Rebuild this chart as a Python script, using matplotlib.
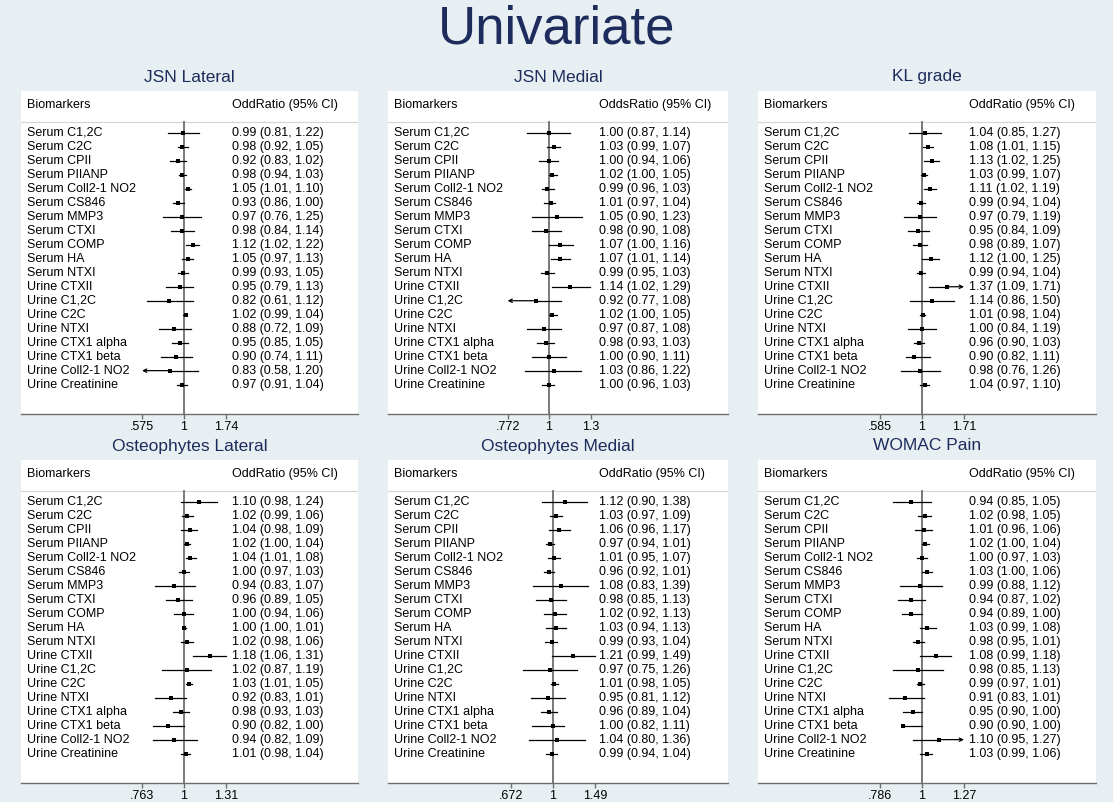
import numpy as np
import matplotlib
matplotlib.use("Agg")
import matplotlib.pyplot as plt
import matplotlib.transforms as mtrans

plt.rcParams["font.family"] = ["Liberation Sans", "DejaVu Sans"]

biomarkers = ["Serum C1,2C", "Serum C2C", "Serum CPII", "Serum PIIANP", "Serum Coll2-1 NO2",
              "Serum CS846", "Serum MMP3", "Serum CTXI", "Serum COMP", "Serum HA", "Serum NTXI",
              "Urine CTXII", "Urine C1,2C", "Urine C2C", "Urine NTXI", "Urine CTX1 alpha",
              "Urine CTX1 beta", "Urine Coll2-1 NO2", "Urine Creatinine"]

panel_titles = ["JSN Lateral", "JSN Medial", "KL grade",
                "Osteophytes Lateral", "Osteophytes Medial", "WOMAC Pain"]
or_headers = ["OddRatio (95% CI)", "OddsRatio (95% CI)", "OddRatio (95% CI)",
              "OddRatio (95% CI)", "OddRatio (95% CI)", "OddRatio (95% CI)"]

jsn_lat_or = [0.99, 0.98, 0.92, 0.98, 1.05, 0.93, 0.97, 0.98, 1.12, 1.05, 0.99, 0.95, 0.82, 1.02, 0.88, 0.95, 0.90, 0.83, 0.97]
jsn_lat_lo = [0.81, 0.92, 0.83, 0.94, 1.01, 0.86, 0.76, 0.84, 1.02, 0.97, 0.93, 0.79, 0.61, 0.99, 0.72, 0.85, 0.74, 0.58, 0.91]
jsn_lat_hi = [1.22, 1.05, 1.02, 1.03, 1.10, 1.00, 1.25, 1.14, 1.22, 1.13, 1.05, 1.13, 1.12, 1.04, 1.09, 1.05, 1.11, 1.20, 1.04]

jsn_med_or = [1.00, 1.03, 1.00, 1.02, 0.99, 1.01, 1.05, 0.98, 1.07, 1.07, 0.99, 1.14, 0.92, 1.02, 0.97, 0.98, 1.00, 1.03, 1.00]
jsn_med_lo = [0.87, 0.99, 0.94, 1.00, 0.96, 0.97, 0.90, 0.90, 1.00, 1.01, 0.95, 1.02, 0.77, 1.00, 0.87, 0.93, 0.90, 0.86, 0.96]
jsn_med_hi = [1.14, 1.07, 1.06, 1.05, 1.03, 1.04, 1.23, 1.08, 1.16, 1.14, 1.03, 1.29, 1.08, 1.05, 1.08, 1.03, 1.11, 1.22, 1.03]

kl_or = [1.04, 1.08, 1.13, 1.03, 1.11, 0.99, 0.97, 0.95, 0.98, 1.12, 0.99, 1.37, 1.14, 1.01, 1.00, 0.96, 0.90, 0.98, 1.04]
kl_lo = [0.85, 1.01, 1.02, 0.99, 1.02, 0.94, 0.79, 0.84, 0.89, 1.00, 0.94, 1.09, 0.86, 0.98, 0.84, 0.90, 0.82, 0.76, 0.97]
kl_hi = [1.27, 1.15, 1.25, 1.07, 1.19, 1.04, 1.19, 1.09, 1.07, 1.25, 1.04, 1.71, 1.50, 1.04, 1.19, 1.03, 1.11, 1.26, 1.10]

ost_lat_or = [1.10, 1.02, 1.04, 1.02, 1.04, 1.00, 0.94, 0.96, 1.00, 1.00, 1.02, 1.18, 1.02, 1.03, 0.92, 0.98, 0.90, 0.94, 1.01]
ost_lat_lo = [0.98, 0.99, 0.98, 1.00, 1.01, 0.97, 0.83, 0.89, 0.94, 1.00, 0.98, 1.06, 0.87, 1.01, 0.83, 0.93, 0.82, 0.82, 0.98]
ost_lat_hi = [1.24, 1.06, 1.09, 1.04, 1.08, 1.03, 1.07, 1.05, 1.06, 1.01, 1.06, 1.31, 1.19, 1.05, 1.01, 1.03, 1.00, 1.09, 1.04]

ost_med_or = [1.12, 1.03, 1.06, 0.97, 1.01, 0.96, 1.08, 0.98, 1.02, 1.03, 0.99, 1.21, 0.97, 1.01, 0.95, 0.96, 1.00, 1.04, 0.99]
ost_med_lo = [0.90, 0.97, 0.96, 0.94, 0.95, 0.92, 0.83, 0.85, 0.92, 0.94, 0.93, 0.99, 0.75, 0.98, 0.81, 0.89, 0.82, 0.80, 0.94]
ost_med_hi = [1.38, 1.09, 1.17, 1.01, 1.07, 1.01, 1.39, 1.13, 1.13, 1.13, 1.04, 1.49, 1.26, 1.05, 1.12, 1.04, 1.11, 1.36, 1.04]

womac_or = [0.94, 1.02, 1.01, 1.02, 1.00, 1.03, 0.99, 0.94, 0.94, 1.03, 0.98, 1.08, 0.98, 0.99, 0.91, 0.95, 0.90, 1.10, 1.03]
womac_lo = [0.85, 0.98, 0.96, 1.00, 0.97, 1.00, 0.88, 0.87, 0.89, 0.99, 0.95, 0.99, 0.85, 0.97, 0.83, 0.90, 0.90, 0.95, 0.99]
womac_hi = [1.05, 1.05, 1.06, 1.04, 1.03, 1.06, 1.12, 1.02, 1.00, 1.08, 1.01, 1.18, 1.13, 1.01, 1.01, 1.00, 1.00, 1.27, 1.06]

tick_vals = [[0.575, 1, 1.74], [0.772, 1, 1.3], [0.585, 1, 1.71],
             [0.763, 1, 1.31], [0.672, 1, 1.49], [0.786, 1, 1.27]]
tick_labels = [[".575", "1", "1.74"], [".772", "1", "1.3"], [".585", "1", "1.71"],
               [".763", "1", "1.31"], [".672", "1", "1.49"], [".786", "1", "1.27"]]
# rows whose CI is cut at the axis range (row, side)
arrows = [[(17, "lo")], [(12, "lo")], [(11, "hi")], [], [], [(17, "hi")]]

data = [(jsn_lat_or, jsn_lat_lo, jsn_lat_hi), (jsn_med_or, jsn_med_lo, jsn_med_hi),
        (kl_or, kl_lo, kl_hi), (ost_lat_or, ost_lat_lo, ost_lat_hi),
        (ost_med_or, ost_med_lo, ost_med_hi), (womac_or, womac_lo, womac_hi)]

W, H = 1113, 802
BG = "#e8eff2"
NAVY = "#1d2c5c"
GRAY = "#6e6e6e"

fig = plt.figure(figsize=(W / 100, H / 100), dpi=100, facecolor=BG)
fig.text(0.5, 1 - 29 / H, "Univariate", ha="center", va="center", fontsize=38, color=NAVY)

box_left = [21, 388, 758, 21, 388, 758]
box_w = [337, 340, 338, 337, 340, 338]
box_top = [91, 91, 91, 460, 460, 460]
one_px = [163, 161, 164, 163, 165, 164]
box_h = 323
title_y = [77, 77, 77, 446, 446, 446]
ytop, ybot = -3.0, 20.1

for i in range(6):
    L, T, Wb = box_left[i], box_top[i], box_w[i]
    ax = fig.add_axes([L / W, 1 - (T + box_h) / H, Wb / W, box_h / H])
    ax.set_facecolor("white")
    ax.set_xscale("log")
    hi_t = tick_vals[i][2]
    k = np.log(hi_t) / 42.0
    ax.set_xlim(np.exp(-one_px[i] * k), np.exp((Wb - one_px[i]) * k))
    ax.set_ylim(ybot, ytop)
    for s in ["top", "left", "right"]:
        ax.spines[s].set_visible(False)
    ax.spines["bottom"].set_color(GRAY)
    ax.spines["bottom"].set_linewidth(1.0)
    ax.set_yticks([])
    ax.set_xticks(tick_vals[i])
    ax.set_xticklabels(tick_labels[i])
    ax.xaxis.set_minor_locator(matplotlib.ticker.NullLocator())
    ax.tick_params(axis="x", length=3.5, width=1.0, color=GRAY, labelsize=9, pad=1.2)

    tr = mtrans.blended_transform_factory(ax.transAxes, ax.transData)
    ax.plot([0, 1], [-0.79, -0.79], transform=tr, color="#d4d4d4", lw=0.8)
    ax.plot([1, 1], [-0.79, ybot], color=GRAY, lw=1.3)
    ax.text(6 / Wb, -2.0, "Biomarkers", transform=tr, ha="left", va="center", fontsize=9)
    ax.text(211 / Wb, -2.0, or_headers[i], transform=tr, ha="left", va="center", fontsize=9)
    fig.text((L + Wb / 2) / W, 1 - title_y[i] / H, panel_titles[i], ha="center",
             va="center", fontsize=12.5, color=NAVY)

    o, lo, hi = data[i]
    cut = dict(arrows[i])
    for r, name in enumerate(biomarkers):
        ax.text(6 / Wb, r, name, transform=tr, ha="left", va="center", fontsize=9)
        ax.text(211 / Wb, r, f"{o[r]:.2f} ({lo[r]:.2f}, {hi[r]:.2f})", transform=tr,
                ha="left", va="center", fontsize=9)
        a, b = lo[r], hi[r]
        side = cut.get(r)
        if side == "lo":
            a = tick_vals[i][0]
            ax.annotate("", xy=(a, r), xytext=(o[r], r),
                        arrowprops=dict(arrowstyle="->", lw=0.9, color="black",
                                        mutation_scale=6, shrinkA=0, shrinkB=0))
            ax.plot([o[r], b], [r, r], color="black", lw=0.9)
        elif side == "hi":
            b = tick_vals[i][2]
            ax.annotate("", xy=(b, r), xytext=(o[r], r),
                        arrowprops=dict(arrowstyle="->", lw=0.9, color="black",
                                        mutation_scale=6, shrinkA=0, shrinkB=0))
            ax.plot([a, o[r]], [r, r], color="black", lw=0.9)
        else:
            ax.plot([a, b], [r, r], color="black", lw=0.9)
        ax.plot(o[r], r, marker="s", ms=2.6, color="black", mew=0)

fig.savefig("out.png", dpi=100, facecolor=BG)
